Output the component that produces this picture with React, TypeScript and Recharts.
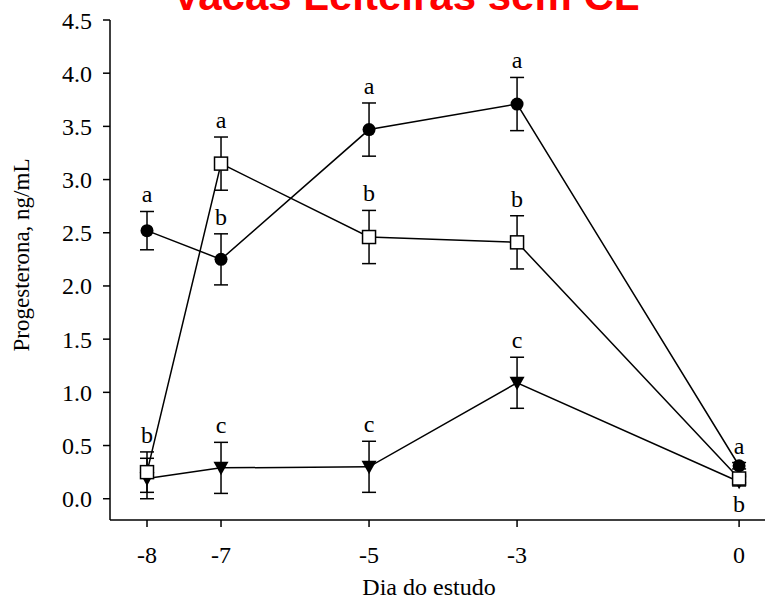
import { ComposedChart, Line, XAxis, YAxis, ErrorBar, LabelList } from "recharts"

const days = [-8, -7, -5, -3, 0]
const dayTicks = [-8, -7, -5, -3, 0]
const yTicks = [0, 0.5, 1, 1.5, 2, 2.5, 3, 3.5, 4, 4.5]

const circMean = [2.52, 2.25, 3.47, 3.71, 0.31]
const circErr = [0.18, 0.24, 0.25, 0.25, 0.03]
const circLetters = ["a", "b", "a", "a", "a"]

const squareMean = [0.25, 3.15, 2.46, 2.41, 0.19]
const squareErr = [0.19, 0.25, 0.25, 0.25, 0.04]
const squareLetters = ["b", "a", "b", "b", ""]

const triMean = [0.19, 0.29, 0.3, 1.09, 0.16]
const triErr = [0.19, 0.24, 0.24, 0.24, 0.04]
const triLetters = ["", "c", "c", "c", ""]
const triLowLetters = ["", "", "", "", "b"]

const serif = "'Liberation Serif', 'Times New Roman', serif"

const data = days.map((day, i) => ({
  day,
  circ: circMean[i],
  circErr: circErr[i],
  circTop: circMean[i] + circErr[i],
  circLetter: circLetters[i],
  sq: squareMean[i],
  sqErr: squareErr[i],
  sqTop: squareMean[i] + squareErr[i],
  sqLetter: squareLetters[i],
  tri: triMean[i],
  triErr: triErr[i],
  triTop: triMean[i] + triErr[i],
  triBottom: triMean[i] - triErr[i],
  triLetter: triLetters[i],
  triLow: triLowLetters[i],
}))

const CircleDot = (p: any) => <circle key={`c${p.index}`} cx={p.cx} cy={p.cy} r={6.5} fill="#000" />
const SquareDot = (p: any) => (
  <rect key={`s${p.index}`} x={p.cx - 6.5} y={p.cy - 6.5} width={13} height={13} fill="#fff" stroke="#000" strokeWidth={1.5} />
)
const TriDot = (p: any) => (
  <polygon
    key={`t${p.index}`}
    points={`${p.cx - 7.5},${p.cy - 6} ${p.cx + 7.5},${p.cy - 6} ${p.cx},${p.cy + 7.5}`}
    fill="#000"
  />
)

const letterAbove = (p: any) =>
  p.value ? (
    <text x={p.x} y={p.y - 9} textAnchor="middle" fontFamily={serif} fontSize={24} fill="#000">
      {p.value}
    </text>
  ) : null

const letterBelow = (p: any) =>
  p.value ? (
    <text x={p.x} y={p.y + 26} textAnchor="middle" fontFamily={serif} fontSize={24} fill="#000">
      {p.value}
    </text>
  ) : null

const tickStyle = { fill: "#000", fontSize: 24, fontFamily: serif }

export default function App() {
  return (
    <div style={{ position: "absolute", left: 0, top: 0, background: "#fff" }}>
      <ComposedChart width={765} height={599} data={data} margin={{ top: 20, right: 0, left: 0, bottom: 0 }}>
        <text x={406} y={10} textAnchor="middle" fontFamily="'Liberation Sans', Arial, sans-serif" fontWeight="bold" fontSize={42} fill="#ff0000">
          Vacas Leiteiras sem CL
        </text>
        <XAxis
          type="number"
          dataKey="day"
          domain={[-8.5, 0.35]}
          ticks={dayTicks}
          allowDataOverflow
          height={79}
          tickSize={7}
          tickMargin={19}
          tick={tickStyle}
          axisLine={{ stroke: "#000", strokeWidth: 1.5 }}
          tickLine={{ stroke: "#000", strokeWidth: 1.5 }}
          label={{
            content: () => (
              <text x={429} y={595} textAnchor="middle" fontFamily={serif} fontSize={24} fill="#000">
                Dia do estudo
              </text>
            ),
          }}
        />
        <YAxis
          type="number"
          domain={[-0.2, 4.5]}
          ticks={yTicks}
          allowDataOverflow
          width={110}
          tickSize={7}
          tickMargin={11}
          tick={tickStyle}
          tickFormatter={(v: number) => v.toFixed(1)}
          axisLine={{ stroke: "#000", strokeWidth: 1.5 }}
          tickLine={{ stroke: "#000", strokeWidth: 1.5 }}
          label={{
            content: () => (
              <text
                x={29}
                y={255}
                transform="rotate(-90 29 255)"
                textAnchor="middle"
                fontFamily={serif}
                fontSize={23}
                fill="#000"
              >
                Progesterona, ng/mL
              </text>
            ),
          }}
        />
        <Line dataKey="tri" stroke="#000" strokeWidth={1.5} dot={TriDot} activeDot={false} isAnimationActive={false}>
          <ErrorBar dataKey="triErr" direction="y" width={7} stroke="#000" strokeWidth={1.5} />
        </Line>
        <Line dataKey="circ" stroke="#000" strokeWidth={1.5} dot={CircleDot} activeDot={false} isAnimationActive={false}>
          <ErrorBar dataKey="circErr" direction="y" width={7} stroke="#000" strokeWidth={1.5} />
        </Line>
        <Line dataKey="sq" stroke="#000" strokeWidth={1.5} dot={SquareDot} activeDot={false} isAnimationActive={false}>
          <ErrorBar dataKey="sqErr" direction="y" width={7} stroke="#000" strokeWidth={1.5} />
        </Line>
        <Line dataKey="circTop" stroke="none" dot={false} activeDot={false} isAnimationActive={false}>
          <LabelList dataKey="circLetter" content={letterAbove} />
        </Line>
        <Line dataKey="sqTop" stroke="none" dot={false} activeDot={false} isAnimationActive={false}>
          <LabelList dataKey="sqLetter" content={letterAbove} />
        </Line>
        <Line dataKey="triTop" stroke="none" dot={false} activeDot={false} isAnimationActive={false}>
          <LabelList dataKey="triLetter" content={letterAbove} />
        </Line>
        <Line dataKey="triBottom" stroke="none" dot={false} activeDot={false} isAnimationActive={false}>
          <LabelList dataKey="triLow" content={letterBelow} />
        </Line>
      </ComposedChart>
    </div>
  )
}
